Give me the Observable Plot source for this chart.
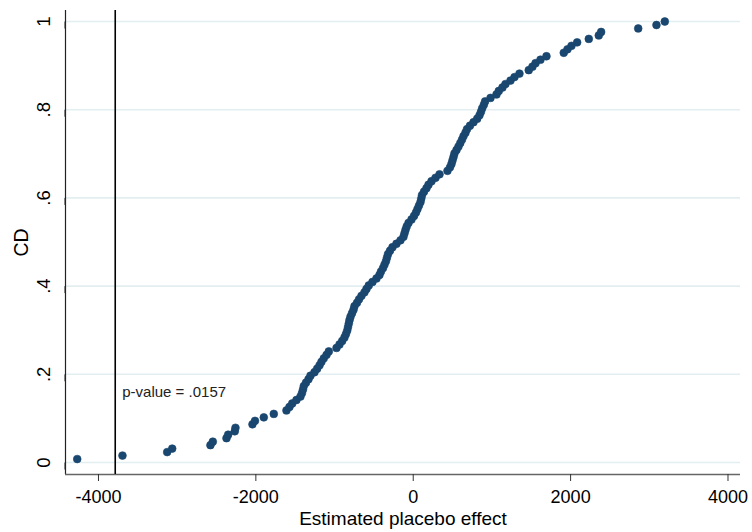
<!DOCTYPE html>
<html>
<head>
<meta charset="utf-8">
<script src="https://cdn.jsdelivr.net/npm/d3@7"></script>
<script src="https://cdn.jsdelivr.net/npm/@observablehq/plot@0.6"></script>
<style>
  html, body { margin: 0; padding: 0; background: #fff; }
  #chart svg { display: block; }
</style>
</head>
<body>
<div id="chart"></div>
<script>
// Estimated placebo effects (sorted)
const placeboEffects = [
  -4270,-3695,-3127,-3063,-2577,-2547,-2373,-2352,-2268,-2259,
  -2043,-2011,-1899,-1772,-1611,-1573,-1538,-1484,-1433,-1414,
  -1401,-1391,-1363,-1331,-1306,-1255,-1221,-1191,-1166,-1137,
  -1102,-1073,-975,-937,-903,-874,-855,-839,-829,-819,
  -810,-797,-778,-759,-747,-715,-689,-658,-620,-594,
  -565,-518,-467,-429,-410,-384,-365,-346,-334,-321,
  -295,-264,-213,-162,-124,-111,-98,-83,-60,-22,
  10,35,54,73,92,102,111,137,168,194,
  232,283,334,435,467,486,499,512,524,550,
  575,598,620,639,664,683,721,766,813,842,
  861,876,897,913,982,1058,1087,1134,1172,1236,
  1287,1350,1468,1515,1554,1617,1693,1913,1960,2011,
  2083,2231,2358,2388,2859,3091,3197
];
const actualEffect = [-3787];
const pValueLabel = ["p-value = .0157"];
const pValueY = [0.16];
const xTicks = [-4000, -2000, 0, 2000, 4000];
const yTicks = [0, 0.2, 0.4, 0.6, 0.8, 1];
const yTickLabels = ["0", ".2", ".4", ".6", ".8", "1"];
const xDomain = [-4419, 4159];
const yDomain = [-0.0272, 1.025];
const xTitle = ["Estimated placebo effect"];
const yTitle = ["CD"];

const N = placeboEffects.length;
const points = placeboEffects.map((v, i) => ({effect: v, cd: (i + 1) / N}));

const font = "'Liberation Sans', Arial, sans-serif";

const chart = Plot.plot({
  width: 752,
  height: 532,
  marginLeft: 65,
  marginRight: 12,
  marginTop: 10,
  marginBottom: 58,
  style: {fontFamily: font, background: "#fff", color: "#000"},
  x: {domain: xDomain},
  y: {domain: yDomain},
  marks: [
    Plot.gridY(yTicks, {stroke: "#e3eef1", strokeOpacity: 1, strokeWidth: 1.6}),
    Plot.ruleX([xDomain[0]], {stroke: "#222", strokeWidth: 1.2}),
    Plot.ruleY([yDomain[0]], {stroke: "#666", strokeWidth: 1.6}),
    Plot.axisY(yTicks, {
      tickFormat: (d) => yTickLabels[yTicks.indexOf(d)],
      rotate: -90, textAnchor: "middle",
      tickSize: 7, tickPadding: 14, fontSize: 18.5, stroke: "#222", fill: "#000",
      label: null
    }),
    Plot.axisX(xTicks, {
      tickFormat: d => d === 0 ? "0" : String(d).replace("\u2212", "-"),
      tickSize: 7, tickPadding: 8.5, fontSize: 18, stroke: "#333", fill: "#000",
      label: null
    }),
    Plot.ruleX(actualEffect, {stroke: "#000", strokeWidth: 1.6}),
    Plot.text(pValueLabel, {
      x: () => actualEffect[0], y: (d, i) => pValueY[i], text: d => d,
      textAnchor: "start", dx: 7, fontSize: 15, fill: "#222"
    }),
    Plot.dot(points, {x: "effect", y: "cd", r: 3.9, fill: "#1a476f", stroke: "#1a476f", strokeWidth: 0.6}),
    Plot.text(xTitle, {
      frameAnchor: "bottom", lineAnchor: "bottom", dy: 50.5,
      text: d => d, fontSize: 19, fill: "#000"
    }),
    Plot.text(yTitle, {
      frameAnchor: "left", lineAnchor: "bottom", rotate: -90, textAnchor: "middle",
      dx: -38, text: d => d, fontSize: 19.5, fill: "#000"
    })
  ]
});
document.getElementById("chart").appendChild(chart);
</script>
</body>
</html>
